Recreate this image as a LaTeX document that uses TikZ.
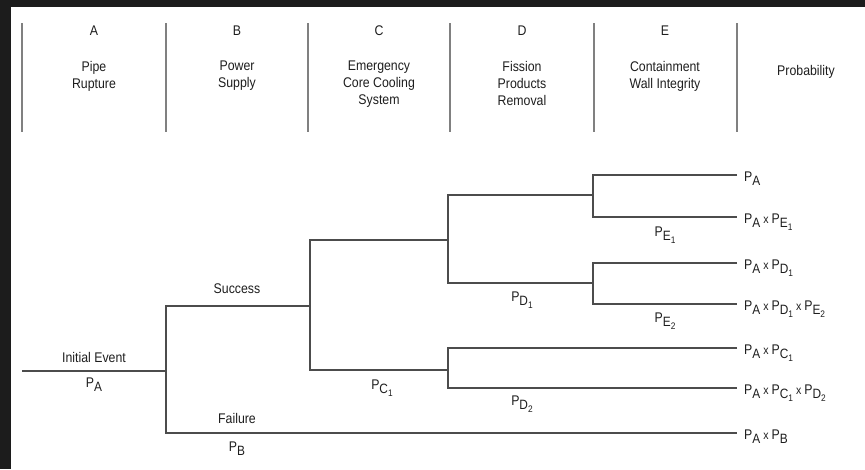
\documentclass[tikz,border=0pt]{standalone}
\usepackage{fontspec}
\setmainfont{Liberation Sans}[FakeStretch=0.88]
\definecolor{bgdark}{HTML}{1C1C1C}
\definecolor{ink}{HTML}{1E1E1E}
\newcommand\sbx[1]{\raisebox{-4pt}{\fontsize{13.5}{13.5}\selectfont #1}}
\newcommand\sbz[1]{\raisebox{-3pt}{\fontsize{9.5}{9.5}\selectfont #1}}
\newcommand\Pp[1]{P\sbx{#1}}
\newcommand\tx{\kern3pt{\fontsize{12}{12}\selectfont x}\kern3pt}
\begin{document}
\begin{tikzpicture}[x=1pt,y=-1pt,
  tline/.style={line width=1.5pt, draw=black!70},
  hline/.style={line width=1.4pt, draw=black!50},
  txt/.style={inner sep=0pt, text=ink, font=\fontsize{14}{17}\selectfont},
  hd/.style={txt, align=center, anchor=north},
  lab/.style={txt, anchor=base},
  rowlab/.style={txt, anchor=base west},
]
\fill[bgdark] (0,0) rectangle (865,469);
\fill[white] (11,7) rectangle (865,469);
\useasboundingbox (0,0) rectangle (865,469);

% header separators
\foreach \x/\n in {22/1,166/2,308/3,450/4,594/5,737/6}{
  \coordinate (ht\n) at (\x,23);
  \coordinate (hb\n) at (\x,132);
  \draw[hline] (ht\n) -- (hb\n);
}

% header texts
\node[lab] (hA) at (94,35) {A};
\node[lab] (hB) at (237,35) {B};
\node[lab] (hC) at (379,35) {C};
\node[lab] (hD) at (522,35) {D};
\node[lab] (hE) at (665,35) {E};
\node[hd] (tA) at (94,61) {Pipe\\Rupture};
\node[hd] (tB) at (237,61) {Power\\Supply};
\node[hd] (tC) at (379,61) {Emergency\\Core Cooling\\System};
\node[hd] (tD) at (522,61) {Fission\\Products\\Removal};
\node[hd] (tE) at (665,61) {Containment\\Wall Integrity};
\node[lab] (tP) at (806,75) {Probability};

% tree junctions and ends
\coordinate (s0) at (22,371);
\coordinate (j1) at (166,371);
\coordinate (j2) at (310,306);
\coordinate (j3) at (448,240);
\coordinate (j4) at (448,370);
\coordinate (j5) at (593,195);
\coordinate (j6) at (593,283);
\coordinate (e1) at (737,175);
\coordinate (e2) at (737,217);
\coordinate (e3) at (737,263);
\coordinate (e4) at (737,304);
\coordinate (e5) at (737,348);
\coordinate (e6) at (737,388);
\coordinate (e7) at (737,433);

\draw[tline] (s0) -- (j1);
\draw[tline] (j2) -| (j1) |- (e7);
\draw[tline] (j3) -| (j2) |- (j4);
\draw[tline] (j5) -| (j3) |- (j6);
\draw[tline] (e5) -| (j4) |- (e6);
\draw[tline] (e1) -| (j5) |- (e2);
\draw[tline] (e3) -| (j6) |- (e4);

% branch labels
\node[lab] (lInit) at (94,362) {Initial Event};
\node[lab] (lPA) at (94,387) {\Pp{A}};
\node[lab] (lSucc) at (237,293) {Success};
\node[lab] (lFail) at (237,423) {Failure};
\node[lab] (lPB) at (237,451) {\Pp{B}};
\node[lab] (lPC) at (382,389) {\Pp{C\sbz{1}}};
\node[lab] (lPD1) at (522,301) {\Pp{D\sbz{1}}};
\node[lab] (lPD2) at (522,405) {\Pp{D\sbz{2}}};
\node[lab] (lPE1) at (665,236) {\Pp{E\sbz{1}}};
\node[lab] (lPE2) at (665,322) {\Pp{E\sbz{2}}};

% probability column
\node[rowlab] (r1) at (744,181) {\Pp{A}};
\node[rowlab] (r2) at (744,223) {\Pp{A}\tx\Pp{E\sbz{1}}};
\node[rowlab] (r3) at (744,269) {\Pp{A}\tx\Pp{D\sbz{1}}};
\node[rowlab] (r4) at (744,310) {\Pp{A}\tx\Pp{D\sbz{1}}\tx\Pp{E\sbz{2}}};
\node[rowlab] (r5) at (744,354) {\Pp{A}\tx\Pp{C\sbz{1}}};
\node[rowlab] (r6) at (744,394) {\Pp{A}\tx\Pp{C\sbz{1}}\tx\Pp{D\sbz{2}}};
\node[rowlab] (r7) at (744,439) {\Pp{A}\tx\Pp{B}};
\end{tikzpicture}
\end{document}
